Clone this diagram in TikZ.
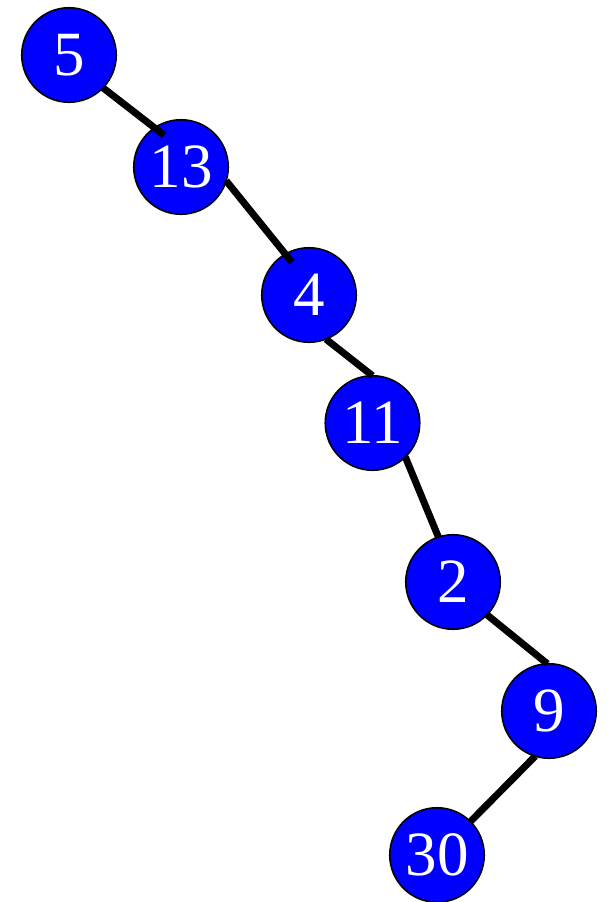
\documentclass[tikz,border=0pt]{standalone}
\usepackage{fontspec}
\setmainfont{Liberation Serif}
\tikzset{
  tnode/.style={circle, draw=black, line width=1.6pt, fill={rgb,255:red,0;green,0;blue,255},
    minimum size=94.5pt, inner sep=0pt, outer sep=0pt, text=white,
    font=\fontsize{63}{63}\selectfont},
  tedge/.style={line width=7pt, draw=black}
}
\newcommand{\lbl}[1]{\raisebox{-3pt}{#1}}
\begin{document}
\begin{tikzpicture}[x=1pt,y=-1pt]
\useasboundingbox (0,0) rectangle (606,902);
\node[tnode] (n5)  at (69,55)    {\lbl{5}};
\node[tnode] (n13) at (181,167)  {\lbl{13}};
\node[tnode] (n4)  at (309,295)  {\lbl{4}};
\node[tnode] (n11) at (372.5,423) {\lbl{11}};
\node[tnode] (n2)  at (453,582)  {\lbl{2}};
\node[tnode] (n9)  at (549,711)  {\lbl{9}};
\node[tnode] (n30) at (437,855)  {\lbl{30}};
\draw[tedge, shorten >=-12pt] (n5.-44) -- (n13.124.8);
\draw[tedge, shorten >=-10.5pt] (n13.-17.7) -- (n4.120.7);
\draw[tedge] (n4.-69.4) -- (n11.90);
\draw[tedge] (n11.-46.3) -- (n2.108.4);
\draw[tedge] (n2.-44.1) -- (n9.92.3);
\draw[tedge] (n9.-107) -- (n30.45);
\end{tikzpicture}
\end{document}
